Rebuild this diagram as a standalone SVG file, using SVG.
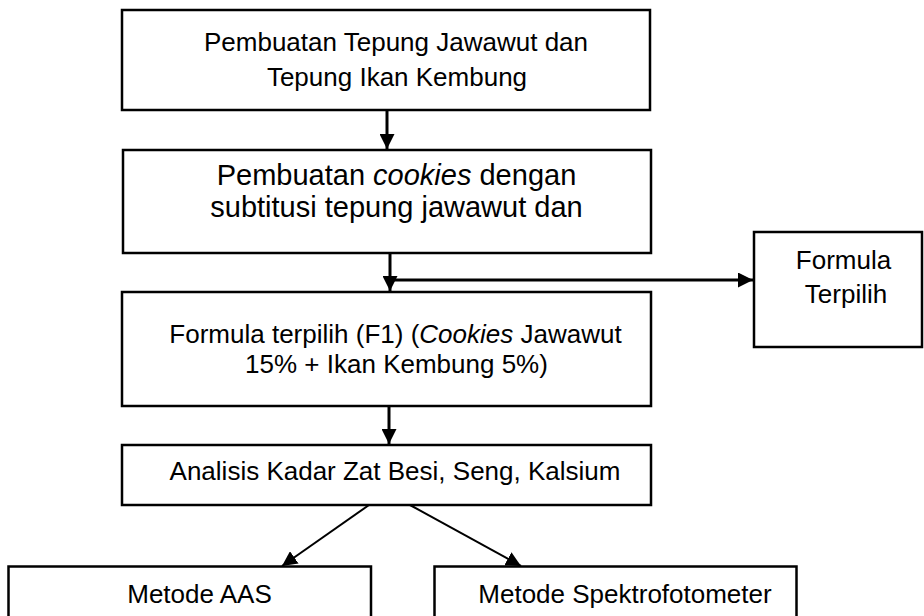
<svg xmlns="http://www.w3.org/2000/svg" width="924" height="616" viewBox="0 0 924 616">
  <defs>
    <style>
      .box { fill: #ffffff; stroke: #000000; stroke-width: 2.5; }
      .t { font-family: "Liberation Sans", Arial, sans-serif; font-size: 26px; fill: #000000; text-anchor: middle; }
      .t2 { font-family: "Liberation Sans", Arial, sans-serif; font-size: 29px; fill: #000000; text-anchor: middle; }
      .i { font-style: italic; }
      .conn { fill: none; stroke: #000000; stroke-width: 3; }
      .diag { fill: none; stroke: #000000; stroke-width: 2; }
    </style>
    <marker id="arrow" viewBox="0 0 15 15" refX="15" refY="7.5" markerWidth="15" markerHeight="15" markerUnits="userSpaceOnUse" orient="auto">
      <path d="M0,0 L15,7.5 L0,15 z" fill="#000000"/>
    </marker>
  </defs>
  <rect width="924" height="616" fill="#ffffff"/>

  <g id="connectors">
    <line class="conn" x1="387" y1="110" x2="387" y2="149" marker-end="url(#arrow)"/>
    <line class="conn" x1="390" y1="253" x2="390" y2="291" marker-end="url(#arrow)"/>
    <line class="conn" x1="390" y1="280" x2="753" y2="280" marker-end="url(#arrow)"/>
    <line class="conn" x1="389" y1="406" x2="389" y2="444" marker-end="url(#arrow)"/>
    <line class="diag" x1="369" y1="505" x2="282" y2="566" marker-end="url(#arrow)"/>
    <line class="diag" x1="410" y1="505" x2="521" y2="566" marker-end="url(#arrow)"/>
  </g>

  <g id="node1">
    <rect class="box" x="122" y="10" width="528" height="100"/>
    <text class="t" x="396" y="51">Pembuatan Tepung Jawawut dan</text>
    <text class="t" x="397" y="86">Tepung Ikan Kembung</text>
  </g>

  <g id="node2">
    <rect class="box" x="123" y="150" width="528" height="103"/>
    <text class="t2" x="396.5" y="185">Pembuatan <tspan class="i">cookies</tspan> dengan</text>
    <text class="t2" x="396.5" y="217">subtitusi tepung jawawut dan</text>
  </g>

  <g id="node3">
    <rect class="box" x="122" y="292" width="529" height="114"/>
    <text class="t" x="395.5" y="343">Formula terpilih (F1) (<tspan class="i">Cookies</tspan> Jawawut</text>
    <text class="t" x="396.5" y="373">15% + Ikan Kembung 5%)</text>
  </g>

  <g id="node4">
    <rect class="box" x="122" y="445" width="529" height="60"/>
    <text class="t" x="395" y="480">Analisis Kadar Zat Besi, Seng, Kalsium</text>
  </g>

  <g id="node5">
    <rect class="box" x="754" y="232" width="168" height="115"/>
    <text class="t" x="843.5" y="269">Formula</text>
    <text class="t" x="846" y="303">Terpilih</text>
  </g>

  <g id="node6">
    <rect class="box" x="8.5" y="566.5" width="362.5" height="80"/>
    <text class="t" x="199.5" y="603">Metode AAS</text>
  </g>

  <g id="node7">
    <rect class="box" x="434.5" y="566.5" width="362" height="80"/>
    <text class="t" x="625" y="603">Metode Spektrofotometer</text>
  </g>
</svg>
